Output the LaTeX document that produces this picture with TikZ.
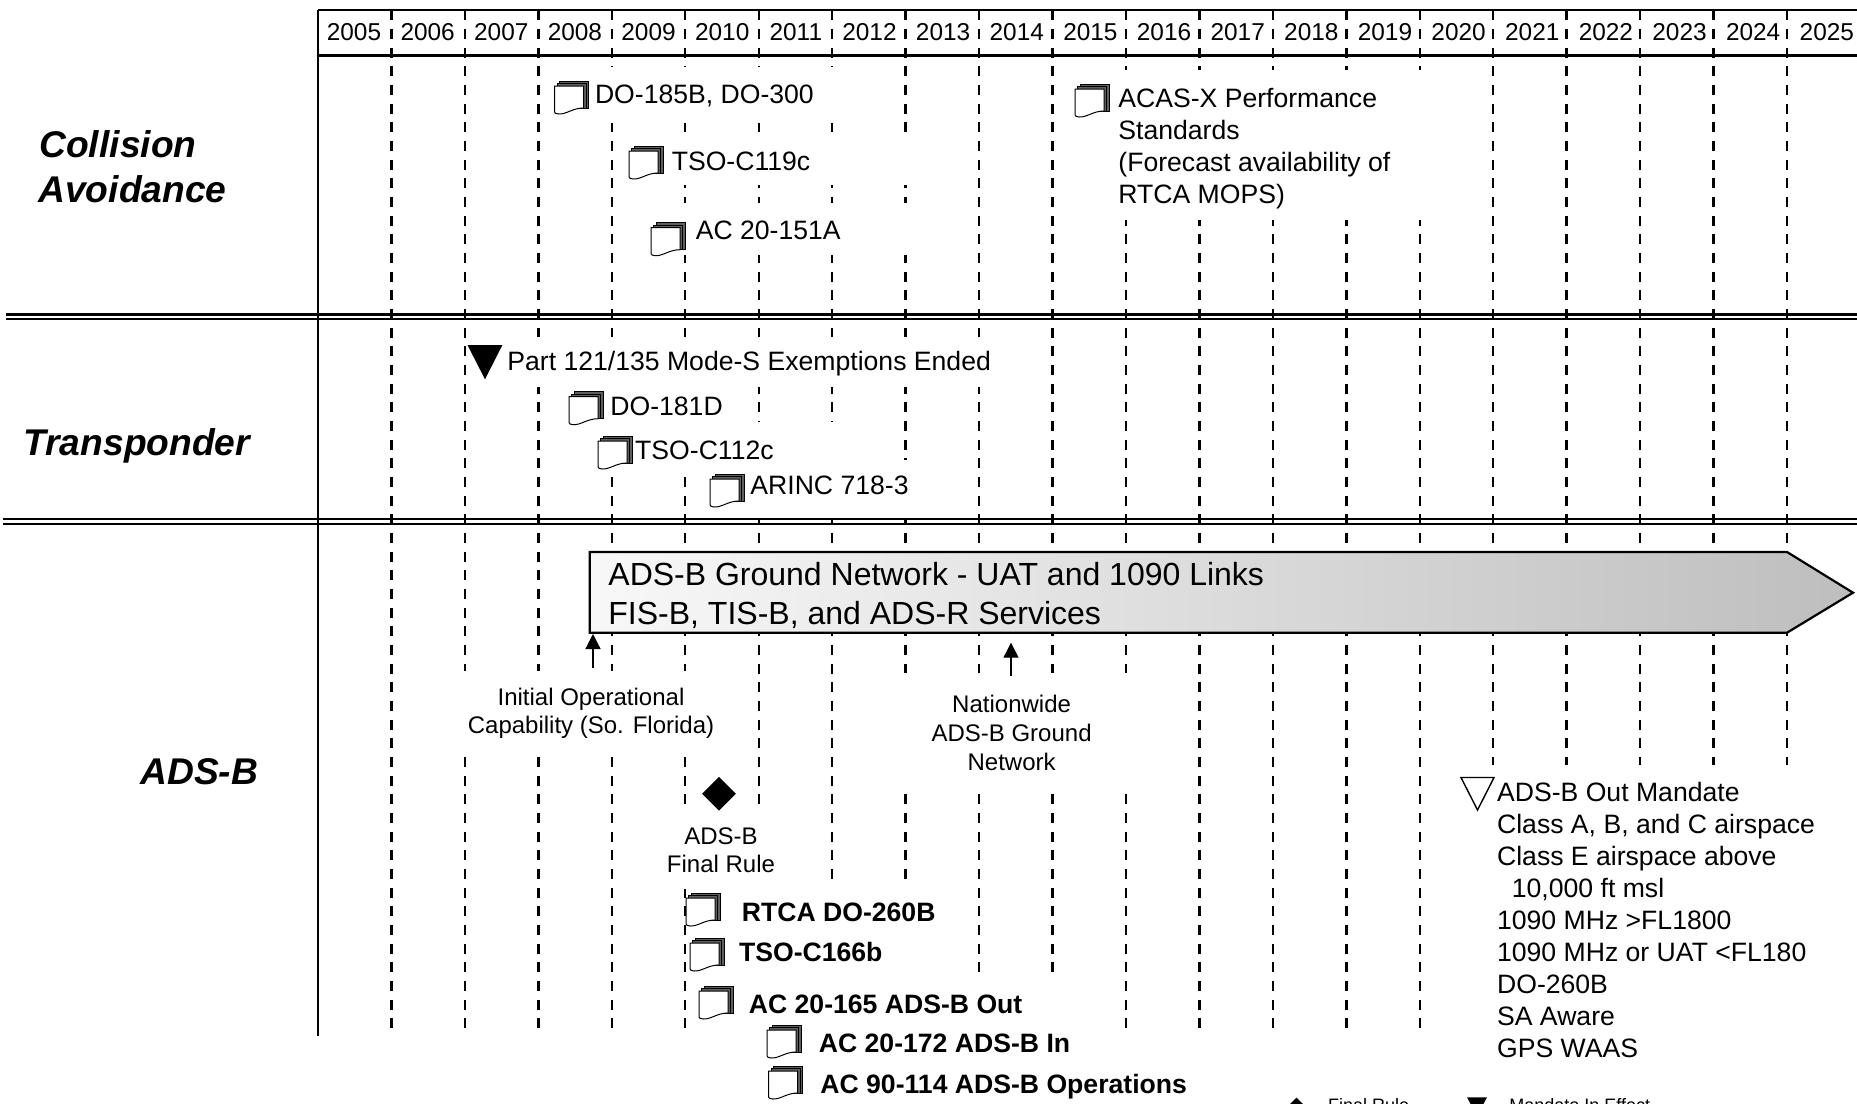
\documentclass[tikz,border=0pt]{standalone}
\usepackage{fontspec}
\setmainfont{Liberation Sans}
\usetikzlibrary{arrows.meta, shapes.geometric}
\definecolor{sheetgray}{RGB}{95,95,95}
\definecolor{barlight}{RGB}{248,248,248}
\definecolor{bardark}{RGB}{190,190,190}
\tikzset{
  gridline/.style={line width=1.2pt, dash pattern=on 5pt off 4.335pt},
  ruleline/.style={line width=1.3pt},
  maskbox/.style={fill=white},
  docsheet/.style={line width=0.5pt},
  bodytext/.style={anchor=base west, inner sep=0pt, font=\fontsize{13.3}{16}\selectfont},
  boldtext/.style={anchor=base west, inner sep=0pt, font=\fontsize{13.3}{16}\selectfont\bfseries},
  yeartext/.style={anchor=base, inner sep=0pt, font=\fontsize{12.2}{14}\selectfont},
  notetext/.style={anchor=base, inner sep=0pt, align=center, font=\fontsize{12}{14.3}\selectfont},
  bartext/.style={anchor=base west, inner sep=0pt, font=\fontsize{16}{19.5}\selectfont},
  grouptext/.style={anchor=base west, inner sep=0pt, font=\fontsize{18.6}{22.3}\selectfont\bfseries\itshape},
  legendtext/.style={anchor=base west, inner sep=0pt, font=\fontsize{9}{11}\selectfont},
  docstack/.pic={
    \draw[docsheet, fill=sheetgray] (5,0) -- (34,0) -- (34,27) -- (5,27) -- cycle;
    \draw[docsheet, fill=sheetgray] (2.5,2.5) -- (31.5,2.5) -- (31.5,27) -- (2.5,27) -- cycle;
    \draw[docsheet, fill=white] (0,5) -- (29,5) -- (29,27) .. controls (18,27) and (12,33.5) .. (4,33) .. controls (2,33) and (0,32) .. (0,31) -- cycle;
  }
}

\begin{document}
\begin{tikzpicture}[x=0.5pt, y=-0.5pt]
    \useasboundingbox (0,0) rectangle (1857,1103);

    % Year lines
    \foreach \k in {1,...,20} {
        \draw[gridline] ({318+73.45*\k},10.2) -- ({318+73.45*\k},1028);
    }

    % Gaps behind the labels
    \fill[maskbox] (596,67) rectangle (870,123);
    \fill[maskbox] (620,133) rectangle (915,185);
    \fill[maskbox] (675,203) rectangle (915,255);
    \fill[maskbox] (1115,70) rectangle (1430,220);
    \fill[maskbox] (500,337) rectangle (990,387);
    \fill[maskbox] (575,387) rectangle (700,431);
    \fill[maskbox] (600,431) rectangle (700,477);
    \fill[maskbox] (745,422) rectangle (880,519);
    \fill[maskbox] (895,459.5) rectangle (915,519);
    \fill[maskbox] (455,671) rectangle (700,748);
    \fill[maskbox] (895,673) rectangle (1135,786);
    \fill[maskbox] (1440,764.5) rectangle (1857,1103);
    \fill[maskbox] (670,805) rectangle (770,889);
    \fill[maskbox] (745,879) rectangle (915,1040);
    \fill[maskbox] (745,972) rectangle (1060,1040);

    % Frame and section rules
    \draw[line width=1.4pt] (318,10) -- (1857,10);
    \draw[line width=1.4pt] (318,55.5) -- (1857,55.5);
    \draw[line width=1.4pt] (318,10) -- (318,1036);
    \draw[ruleline] (6,314.5) -- (1857,314.5);
    \draw[ruleline] (6,319) -- (1857,319);
    \draw[ruleline] (3,519) -- (1857,519);
    \draw[ruleline] (3,524) -- (1857,524);

    % Years
    \foreach \k [evaluate=\k as \yr using int(2005+\k)] in {0,...,20} {
        \node[yeartext] (year\k) at ({354+73.64*\k},40.7) {\yr};
    }

    % Section names
    \node[grouptext] (collisionname) at (39,157.4) {Collision};
    \node[grouptext] (avoidancename) at (38,202) {Avoidance};
    \node[grouptext] (transpondername) at (23,455.8) {Transponder};
    \node[grouptext] (adsbname) at (140,784) {ADS-B};

    % Collision avoidance
    \pic at (554.5,81) {docstack};
    \node[bodytext] (do185) at (594.6,103.3) {DO-185B, DO-300};
    \pic at (629,146) {docstack};
    \node[bodytext] (tso119) at (671.4,170) {TSO-C119c};
    \pic at (651,222.7) {docstack};
    \node[bodytext] (ac151) at (695.4,239) {AC 20-151A};
    \pic at (1075,84) {docstack};
    \node[bodytext] (acasline) at (1118,107) {ACAS-X Performance};
    \node[bodytext] (acasstd) at (1118,139) {Standards};
    \node[bodytext] (acasfor) at (1118,171) {(Forecast availability of};
    \node[bodytext] (acasmops) at (1118,203) {RTCA MOPS)};

    % Transponder
    \fill (467.5,345) -- (502.4,345) -- (485,379.3) -- cycle;
    \node[bodytext] (exempt) at (507,370.7) {Part 121/135 Mode-S Exemptions Ended};
    \pic at (569,391.7) {docstack};
    \node[bodytext] (do181) at (610,415) {DO-181D};
    \pic at (598,436) {docstack};
    \node[bodytext] (tso112) at (634.8,459) {TSO-C112c};
    \pic at (710,474) {docstack};
    \node[bodytext] (arinc) at (750,494.3) {ARINC 718-3};

    % Ground network bar
    \draw[line width=1.1pt, left color=barlight, right color=bardark] (589.7,552) -- (1787,552) -- (1853,592.7) -- (1787,632.7) -- (589.7,632.7) -- cycle;
    \node[bartext] (barone) at (608,585.3) {ADS-B Ground Network - UAT and 1090 Links};
    \node[bartext] (bartwo) at (608,624.3) {FIS-B, TIS-B, and ADS-R Services};

    % Notes under the bar
    \coordinate (ioctip) at (593,634);
    \coordinate (ioctail) at (593,667.7);
    \coordinate (nationtip) at (1011,642.7);
    \coordinate (nationtail) at (1011,675.7);
    \draw[line width=0.6pt, -{Triangle[length=7.5pt, width=7.5pt]}] (ioctail) -- (ioctip);
    \draw[line width=0.6pt, -{Triangle[length=7.5pt, width=7.5pt]}] (nationtail) -- (nationtip);
    \node[notetext] (iocone) at (591,705) {Initial Operational};
    \node[notetext] (ioctwo) at (591,733) {Capability (So. Florida)};
    \node[notetext] (nationone) at (1011.6,712) {Nationwide};
    \node[notetext] (nationtwo) at (1011.6,741) {ADS-B Ground};
    \node[notetext] (nationthree) at (1011.6,770) {Network};

    % ADS-B documents
    \node[diamond, fill=black, minimum width=17pt, minimum height=17pt, inner sep=0pt] (rulemark) at (719,793.7) {};
    \node[notetext] (ruleone) at (721,844) {ADS-B};
    \node[notetext] (ruletwo) at (721,872.7) {Final Rule};
    \pic at (686,893) {docstack};
    \node[boldtext] (do260) at (741.5,921.7) {RTCA DO-260B};
    \pic at (690,938) {docstack};
    \node[boldtext] (tso166) at (738.7,961) {TSO-C166b};
    \pic at (699,986) {docstack};
    \node[boldtext] (ac165) at (748.5,1013.3) {AC 20-165 ADS-B Out};
    \pic at (767,1025) {docstack};
    \node[boldtext] (ac172) at (818.5,1052.7) {AC 20-172 ADS-B In};
    \pic at (768.6,1066) {docstack};
    \node[boldtext] (ac114) at (820,1093.2) {AC 90-114 ADS-B Operations};

    % Mandate list
    \draw[line width=0.7pt] (1461,777.5) -- (1494,777.5) -- (1477.5,810) -- cycle;
    \node[bodytext] (mandate) at (1496.7,801) {ADS-B Out Mandate};
    \node[bodytext] (classabc) at (1496.7,833) {Class A, B, and C airspace};
    \node[bodytext] (classe) at (1496.7,865) {Class E airspace above};
    \node[bodytext] (tenk) at (1511.5,897) {10,000 ft msl};
    \node[bodytext] (fl1800) at (1496.7,929) {1090 MHz >FL1800};
    \node[bodytext] (fl180) at (1496.7,961) {1090 MHz or UAT <FL180};
    \node[bodytext] (do260out) at (1496.7,993) {DO-260B};
    \node[bodytext] (saaware) at (1496.7,1025) {SA Aware};
    \node[bodytext] (gpswaas) at (1496.7,1057) {GPS WAAS};

    % Legend
    \node[diamond, fill=black, minimum width=9pt, minimum height=9pt, inner sep=0pt] (legendrule) at (1296.5,1106.5) {};
    \node[legendtext] (legendruletext) at (1327.8,1111) {Final Rule};
    \fill (1467,1097.3) -- (1487,1097.3) -- (1477,1116) -- cycle;
    \node[legendtext] (legendmandatetext) at (1509,1111) {Mandate In Effect};
\end{tikzpicture}
\end{document}
